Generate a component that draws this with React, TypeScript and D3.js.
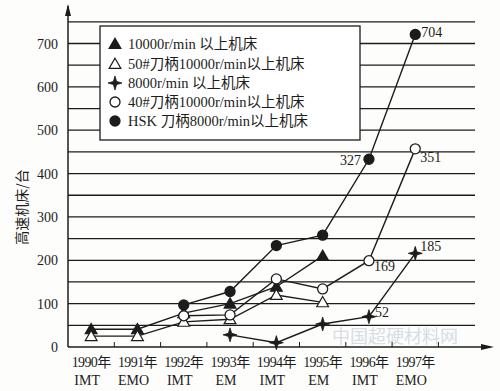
import * as d3 from 'd3';

// categories (x axis, two rows)
const years = ['1990年', '1991年', '1992年', '1993年', '1994年', '1995年', '1996年', '1997年'];
const shows = ['IMT', 'EMO', 'IMT', 'EM', 'IMT', 'EM', 'IMT', 'EMO'];
const yTicks = [0, 100, 200, 300, 400, 500, 600, 700];
const gridVals = d3.range(50, 751, 50);

// series values as drawn (null = no data that year)
const tri10000 = [41, 41, 78, 100, 139, 210, null, null];
const tri50 = [25, 25, 58, 64, 120, 103, null, null];
const star8000 = [null, null, null, 28, 10, 53, 70, 216];
const circ40 = [null, null, 72, 74, 157, 134, 199, 457];
const hsk8000 = [null, null, 97, 128, 234, 258, 433, 721];

const legendNames = [
  '10000r/min 以上机床',
  '50#刀柄10000r/min以上机床',
  '8000r/min 以上机床',
  '40#刀柄10000r/min以上机床',
  'HSK 刀柄8000r/min以上机床',
];

// printed value labels
const notes = [
  { s: 4, i: 7, text: '704', dx: 6, dy: 3, anchor: 'start' },
  { s: 4, i: 6, text: '327', dx: -8, dy: 6, anchor: 'end' },
  { s: 3, i: 7, text: '351', dx: 5, dy: 13, anchor: 'start' },
  { s: 3, i: 6, text: '169', dx: 5, dy: 10, anchor: 'start' },
  { s: 2, i: 6, text: '52', dx: 6, dy: 0, anchor: 'start' },
  { s: 2, i: 7, text: '185', dx: 5, dy: -2, anchor: 'start' },
];

const W = 500, H = 391;
const X0 = 68, Y0 = 347;
const FONT = "'Liberation Serif', 'DejaVu Serif', 'Noto Sans CJK SC', serif";
const INK = '#1c1c1c';

type Kind = 'triFill' | 'triOpen' | 'star' | 'circOpen' | 'circFill';
const kinds: Kind[] = ['triFill', 'triOpen', 'star', 'circOpen', 'circFill'];
const seriesData = [tri10000, tri50, star8000, circ40, hsk8000];

const STAR = 'M0,-7 L1.6,-1.6 L7,0 L1.6,1.6 L0,7 L-1.6,1.6 L-7,0 L-1.6,-1.6 Z';

function Marker({ kind, x, y }: { kind: Kind; x: number; y: number }) {
  if (kind === 'triFill' || kind === 'triOpen') {
    const p = d3.symbol(d3.symbolTriangle, 60)();
    return <path d={p ?? ''} transform={`translate(${x},${y + 1})`} fill={kind === 'triFill' ? INK : '#fff'} stroke={INK} strokeWidth={1.2} />;
  }
  if (kind === 'star') {
    return <path d={STAR} transform={`translate(${x},${y})`} fill={INK} stroke={INK} strokeWidth={0.8} />;
  }
  return <circle cx={x} cy={y} r={5} fill={kind === 'circFill' ? INK : '#fff'} stroke={INK} strokeWidth={1.3} />;
}

export default function App() {
  const band = d3.scaleBand<string>().domain(years).range([X0, X0 + 46.3 * 8]);
  const cx = (i: number) => (band(years[i]) ?? 0) + band.bandwidth() / 2;
  const y = d3.scaleLinear().domain([0, 700]).range([Y0, 43.5]);

  const line = d3
    .line<number | null>()
    .defined((d) => d != null)
    .x((_, i) => cx(i))
    .y((d) => y(d as number));

  return (
    <div style={{ position: 'absolute', left: 0, top: 0 }}>
      <svg width={W} height={H} style={{ display: 'block', background: '#fdfdfb', fontFamily: FONT }}>
        {/* faint watermark */}
        <text x={395} y={343} textAnchor="middle" fontSize={18} fill="#cdd6e1" fontFamily="'Noto Sans CJK SC', sans-serif" opacity={0.8}>中国超硬材料网</text>

        {/* grid lines */}
        {gridVals.map((v) => (
          <line key={v} x1={X0} x2={475} y1={y(v)} y2={y(v)} stroke={INK} strokeWidth={1.3} />
        ))}

        {/* axes */}
        <line x1={X0} x2={X0} y1={Y0} y2={6} stroke={INK} strokeWidth={1.5} />
        <path d={`M${X0},4 L${X0 - 3},16 L${X0 + 3},16 Z`} fill={INK} />
        <line x1={X0} x2={490} y1={Y0} y2={Y0} stroke={INK} strokeWidth={1.5} />
        <path d={`M494,${Y0} L481,${Y0 - 3} L481,${Y0 + 3} Z`} fill={INK} />
        {years.map((yr) => (
          <line key={yr} x1={(band(yr) ?? 0) + band.bandwidth()} x2={(band(yr) ?? 0) + band.bandwidth()} y1={Y0} y2={Y0 - 5} stroke={INK} strokeWidth={1} />
        ))}

        {/* y tick labels */}
        {yTicks.map((t) => (
          <text key={t} x={58} y={y(t) + 5} textAnchor="end" fontSize={14} fill={INK}>{t}</text>
        ))}
        <text transform="translate(27,207) rotate(-90)" textAnchor="middle" fontSize={14} fill={INK} fontFamily="'Noto Sans CJK SC', sans-serif">高速机床/台</text>

        {/* x labels */}
        {years.map((yr, i) => (
          <text key={yr} x={cx(i)} y={367} textAnchor="middle" fontSize={14} fill={INK} letterSpacing={-0.6}>{yr}</text>
        ))}
        {shows.map((s, i) => (
          <text key={i} x={cx(i) - 4} y={385} textAnchor="middle" fontSize={14} fill={INK}>{s}</text>
        ))}

        {/* legend */}
        <rect x={100} y={26} width={260} height={114} fill="#fff" stroke={INK} strokeWidth={1.3} />
        {legendNames.map((n, i) => {
          const ly = [44, 64, 83, 102, 121][i];
          return (
            <g key={n}>
              <Marker kind={kinds[i]} x={115} y={ly} />
              <text x={128} y={ly + 5} fontSize={14.5} fill={INK}>{n}</text>
            </g>
          );
        })}

        {/* series */}
        {seriesData.map((d, s) => (
          <g key={s}>
            <path d={line(d) ?? ''} fill="none" stroke={INK} strokeWidth={1.4} />
            {d.map((v, i) => (v == null ? null : <Marker key={i} kind={kinds[s]} x={cx(i)} y={y(v)} />))}
          </g>
        ))}

        {/* value labels */}
        {notes.map((n) => {
          const v = seriesData[n.s][n.i] as number;
          return (
            <text key={n.text} x={cx(n.i) + n.dx} y={y(v) + n.dy} textAnchor={n.anchor as 'start' | 'end'} fontSize={14} fill={INK}>{n.text}</text>
          );
        })}
      </svg>
    </div>
  );
}
